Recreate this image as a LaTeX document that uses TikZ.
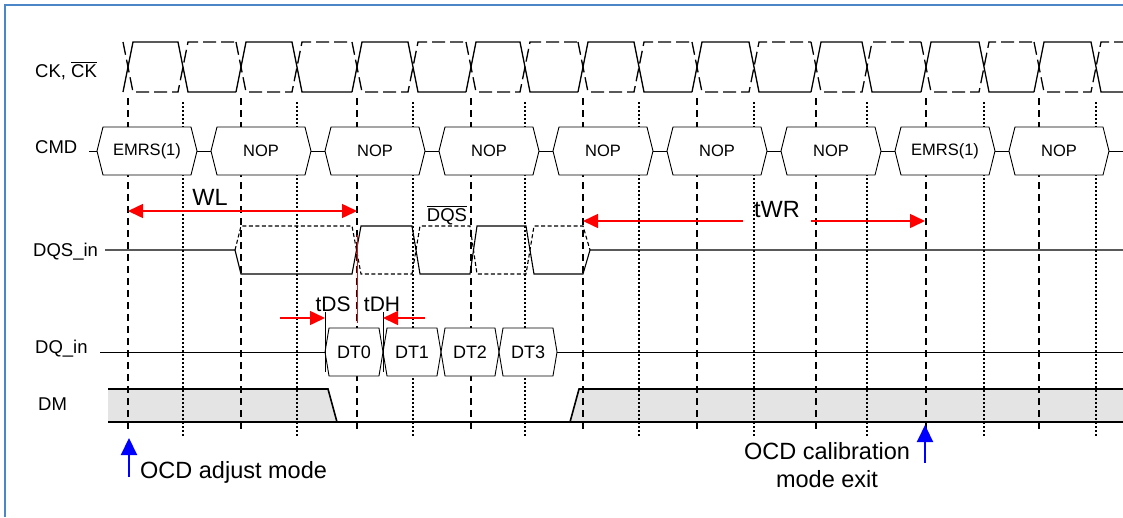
\documentclass[tikz,border=0pt]{standalone}
\usepackage{fontspec}
\setmainfont{Liberation Sans}
\usepackage{tikz}
\usetikzlibrary{arrows.meta,calc,positioning,shapes.symbols}
\definecolor{SigRed}{HTML}{FF0000}
\definecolor{SigBlue}{HTML}{0000FF}
\definecolor{FrameBlue}{HTML}{4A86C8}
\definecolor{DMgray}{HTML}{E4E4E4}

\begin{document}
\begin{tikzpicture}[>=Latex,x=1pt,y=-1pt,node distance=14pt,
  lbl/.style={anchor=base west,inner sep=0pt,font=\fontsize{18.5}{22}\selectfont},
  cmdbox/.style={draw,fill=white,signal,signal to=west and east,signal pointer angle=152,
    minimum width=100pt,minimum height=48pt,inner sep=0pt,outer sep=0pt,line width=0.9pt,
    font=\fontsize{16.5}{20}\selectfont},
  dqbox/.style={cmdbox,signal pointer angle=161,minimum width=58pt,font=\fontsize{18}{22}\selectfont},
  wave/.style={line width=1.3pt},
  wavebar/.style={wave,dash pattern=on 13pt off 5pt},
  rise/.style={line width=1.1pt,dash pattern=on 7pt off 5pt},
  fall/.style={line width=1.1pt,dash pattern=on 1.5pt off 2.5pt},
  timing/.style={SigRed,line width=1.5pt,>={Triangle[length=15pt,width=14pt]}},
  ocdarrow/.style={SigBlue,line width=2.2pt,->,>={Triangle[length=17pt,width=16pt]}},
  big/.style={inner sep=0pt,font=\fontsize{23.5}{28}\selectfont}]
  \useasboundingbox (0,0) rectangle (1123,517);
  \draw[FrameBlue,line width=1.5pt] (5,517) -- (5,5) -- (1123,5);

  % DM shading
  \fill[DMgray] (108,389) -- (328,389) -- (337,422) -- (108,422) -- cycle;
  \fill[DMgray] (570,422) -- (579,389) -- (1123,389) -- (1123,422) -- cycle;

  % clock edges
  \foreach \x in {128,241,357,471,583,697,816,926,1039}
    \draw[rise] (\x,98) -- (\x,432);
  \foreach \x in {183,297,413,525,639,754,867,984,1096}
    \draw[fall] (\x,102) -- (\x,436);

  % CK and CK#
  \foreach \r/\f/\n in {128/183/241,241/297/357,357/413/471,471/525/583,583/639/697,
                        697/754/816,816/867/926,926/984/1039,1039/1096/1128} {
    \draw[wave] (\r-5,92) -- (\r+5,42) -- (\f-5,42) -- (\f+5,92) -- (\n-5,92);
    \draw[wavebar] (\r-5,42) -- (\r+5,92) -- (\f-5,92) -- (\f+5,42) -- (\n-5,42);
  }

  \node[lbl] (ck) at (35,77) {CK, $\overline{\mbox{CK}}$};
  \node[lbl] (cmd) at (35,153) {CMD};
  \node[lbl] (dqs) at (33,256) {DQS\_in};
  \node[lbl] (dq) at (35,353) {DQ\_in};
  \node[lbl] (dm) at (38,410) {DM};

  % commands
  \node[cmdbox] (c1) at (147,151) {EMRS(1)};
  \node[cmdbox,right=of c1] (c2) {NOP};
  \node[cmdbox,right=of c2] (c3) {NOP};
  \node[cmdbox,right=of c3] (c4) {NOP};
  \node[cmdbox,right=of c4] (c5) {NOP};
  \node[cmdbox,right=of c5] (c6) {NOP};
  \node[cmdbox,right=of c6] (c7) {NOP};
  \node[cmdbox,right=of c7] (c8) {EMRS(1)};
  \node[cmdbox,right=of c8] (c9) {NOP};
  \coordinate (cmdin) at (89,151);
  \coordinate (cmdout) at (1123,151);
  \draw[line width=0.9pt] (cmdin) -- (c1.west);
  \foreach \a/\b in {c1/c2,c2/c3,c3/c4,c4/c5,c5/c6,c6/c7,c7/c8,c8/c9}
    \draw[line width=0.9pt] (\a.east) -- (\b.west);
  \draw[line width=0.9pt] (c9.east) -- (cmdout);

  % DQS
  \draw[line width=1.1pt] (105,250) -- (235,250) -- (241,274) -- (352,274) -- (361,226)
    -- (412,226) -- (420,274) -- (470,274) -- (477,226) -- (526,226) -- (534,274)
    -- (583,274) -- (590,250) -- (1123,250);
  \draw[line width=1.1pt,dash pattern=on 4pt off 2.5pt] (235,250) -- (241,226) -- (352,226)
    -- (361,274) -- (412,274) -- (420,226) -- (470,226) -- (477,274) -- (526,274)
    -- (534,226) -- (583,226) -- (590,250);
  \node[anchor=base,inner sep=0pt,font=\fontsize{18.5}{22}\selectfont] (dqsbar) at (447,221) {$\overline{\mbox{DQS}}$};

  % DQ
  \node[dqbox] (d0) at (354,352) {DT0};
  \node[dqbox,right=0pt of d0] (d1) {DT1};
  \node[dqbox,right=0pt of d1] (d2) {DT2};
  \node[dqbox,right=0pt of d2] (d3) {DT3};
  \coordinate (dqin) at (100,352);
  \coordinate (dqout) at (1123,352);
  \draw[line width=0.9pt] (dqin) -- (d0.west);
  \draw[line width=0.9pt] (d3.east) -- (dqout);
  \draw[line width=1pt] ([yshift=40pt]d0.west) -- ([yshift=-20pt]d0.west);
  \draw[line width=1pt] ([yshift=40pt]d0.east) -- ([yshift=-20pt]d0.east);

  % DM
  \draw[line width=1.6pt] (108,389) -- (328,389) -- (337,422);
  \draw[line width=1.6pt] (108,422) -- (1123,422);
  \draw[line width=1.6pt] (570,422) -- (579,389) -- (1123,389);

  % timing
  \coordinate (wlL) at (128,211);
  \coordinate (wlR) at (357,211);
  \draw[timing,<->] (wlL) -- (wlR);
  \node[big,anchor=base] (wl) at (210,205) {WL};
  \node[big,anchor=base,inner xsep=11pt] (twr) at (777,217) {tWR};
  \coordinate (twrL) at (583,221);
  \coordinate (twrR) at (925,221);
  \draw[timing,->] (twr.west |- twrL) -- (twrL);
  \draw[timing,->] (twr.east |- twrR) -- (twrR);
  \draw[SigRed,line width=1pt] (357,235) -- (357,323);
  \node[anchor=base,inner sep=0pt,font=\fontsize{21}{25}\selectfont] (tds) at (333,311) {tDS};
  \node[anchor=base,inner sep=0pt,font=\fontsize{21}{25}\selectfont] (tdh) at (382,311) {tDH};
  \coordinate (tdsL) at (280,318);
  \coordinate (tdhR) at (425,318);
  \draw[timing,->] (tdsL) -- (tdsL -| d0.west);
  \draw[timing,->] (tdhR) -- (tdhR -| d0.east);

  % OCD markers
  \coordinate (ocdA) at (129,477);
  \coordinate (ocdAtip) at (129,438);
  \draw[ocdarrow] (ocdA) -- (ocdAtip);
  \node[big,anchor=base west] (ocdadj) at (140,478) {OCD adjust mode};
  \coordinate (ocdB) at (925,463);
  \coordinate (ocdBtip) at (925,425);
  \draw[ocdarrow] (ocdB) -- (ocdBtip);
  \node[big,align=center] (ocdexit) at (827,465) {OCD calibration\\mode exit};
\end{tikzpicture}
\end{document}
